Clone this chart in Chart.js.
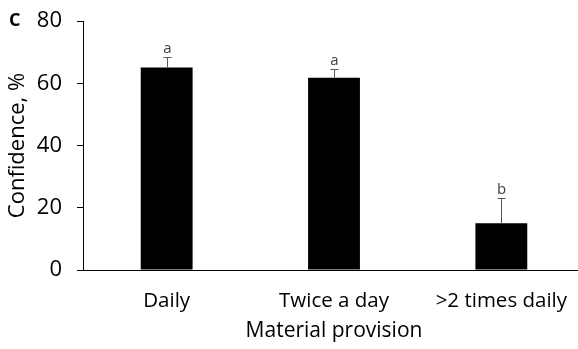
<!DOCTYPE html>
<html>
<head>
<meta charset="utf-8">
<script src="https://cdn.jsdelivr.net/npm/chart.js@4/dist/chart.umd.min.js"></script>
<style>
  html, body { margin: 0; padding: 0; background: #fff; overflow: hidden; }
  #wrap { position: relative; width: 586px; height: 349px; }
</style>
</head>
<body>
<div id="wrap"><canvas id="c"></canvas></div>
<script>
// Mean confidence by material provision frequency, with SE and group letters
const categories = ['Daily', 'Twice a day', '>2 times daily'];
const confidence = [65.1, 61.8, 15.0];
const errorPlus = [3.2, 2.7, 8.2];
const groupLetters = ['a', 'a', 'b'];
const yTicks = [0, 20, 40, 60, 80];

const FONT = "'Open Sans', sans-serif";

// Draws upward error whiskers and significance letters above each bar
const errorBarPlugin = {
  id: 'errorBars',
  afterDatasetsDraw(chart) {
    const { ctx, scales: { x, y } } = chart;
    ctx.save();
    confidence.forEach((v, i) => {
      const cx = Math.round(x.getPixelForValue(i)) + 0.5;
      const y0 = y.getPixelForValue(v);
      const y1 = y.getPixelForValue(v + errorPlus[i]);
      ctx.strokeStyle = '#595959';
      ctx.lineWidth = 1;
      ctx.beginPath();
      ctx.moveTo(cx, y0);
      ctx.lineTo(cx, Math.round(y1) + 0.5);
      ctx.moveTo(cx - 4, Math.round(y1) + 0.5);
      ctx.lineTo(cx + 4, Math.round(y1) + 0.5);
      ctx.stroke();
      ctx.fillStyle = '#404040';
      ctx.font = "15px " + FONT;
      ctx.textAlign = 'center';
      ctx.textBaseline = 'alphabetic';
      ctx.fillText(groupLetters[i], cx, y1 - 4);
    });
    // panel letter
    ctx.fillStyle = '#000';
    ctx.font = "bold 18px " + FONT;
    ctx.textAlign = 'left';
    ctx.textBaseline = 'middle';
    ctx.fillText('C', 9, 21);
    ctx.restore();
  }
};

new Chart(document.getElementById('c'), {
  type: 'bar',
  data: {
    labels: categories,
    datasets: [{
      data: confidence,
      backgroundColor: '#000',
      borderColor: '#000',
      borderWidth: 0,
      barPercentage: 0.31,
      categoryPercentage: 1.0
    }]
  },
  options: {
    responsive: true,
    maintainAspectRatio: false,
    animation: false,
    devicePixelRatio: 1,
    layout: { padding: { top: 21, right: 1, bottom: 5, left: 0 } },
    plugins: { legend: { display: false }, tooltip: { enabled: false } },
    scales: {
      x: {
        grid: { display: false },
        border: { display: true, color: '#000', width: 1 },
        ticks: { color: '#000', font: { family: FONT, size: 20.5 }, padding: 11, maxRotation: 0 },
        title: { display: true, text: 'Material provision', color: '#000',
                 font: { family: FONT, size: 21 }, padding: { top: 0, bottom: 0 } },
        afterFit(scale) { scale.height = 74; }
      },
      y: {
        min: 0, max: 80,
        afterBuildTicks(scale) { scale.ticks = yTicks.map(v => ({ value: v })); },
        grid: { drawOnChartArea: false, drawTicks: true, tickLength: 6, color: '#000' },
        border: { display: true, color: '#000', width: 1 },
        ticks: { color: '#000', font: { family: FONT, size: 22 }, padding: 15 },
        title: { display: true, text: 'Confidence, %', color: '#000',
                 font: { family: FONT, size: 22 }, padding: { top: 5, bottom: 0 } },
        afterFit(scale) {
          scale.width = 83;
          scale.paddingTop = 0;
          scale.paddingBottom = 0;
        }
      }
    }
  },
  plugins: [errorBarPlugin]
});
</script>
</body>
</html>
